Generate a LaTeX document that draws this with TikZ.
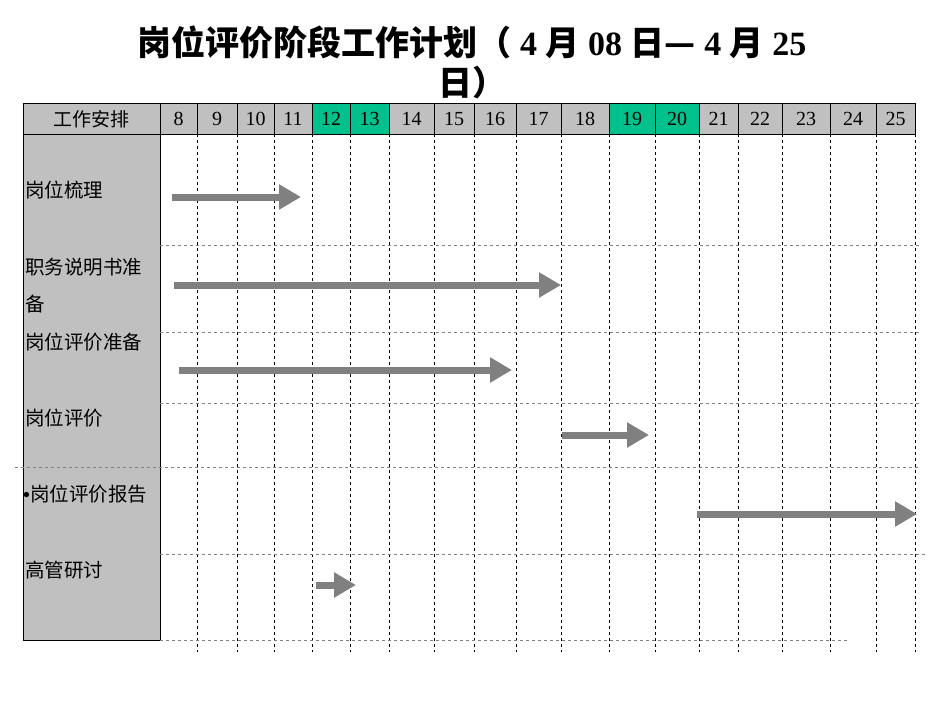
\documentclass[tikz,border=0pt]{standalone}
\usepackage{xcolor}
\usepackage{fontspec}
\setmainfont{Liberation Serif}
\newfontfamily\cjk{Noto Sans CJK SC}
\usepackage{tikz}
\usetikzlibrary{positioning}
\usetikzlibrary{calc}
\usetikzlibrary{arrows.meta}

\definecolor{cellgray}{HTML}{C0C0C0}
\definecolor{cellgreen}{HTML}{00C08C}
\definecolor{bargray}{HTML}{808080}

\begin{document}
\begin{tikzpicture}[x=1pt, y=-1pt,
    hcell/.style={draw=black, fill=cellgray},
    gcell/.style={draw=black, fill=cellgreen},
    grid/.style={dashed, line width=0.6pt},
    rowline/.style={dashed, draw=gray, line width=0.6pt},
    bar/.style={draw=bargray, line width=7pt, -{Triangle[length=22pt, width=24pt]}},
    lbl/.style={anchor=west, font=\cjk\fontsize{19.5}{37}\selectfont, inner sep=0pt, align=left}
]
\useasboundingbox (0,0) rectangle (950,713);

% title
\node[font=\bfseries\fontsize{34}{40}\selectfont, align=center] (title) at (472,62)
  {{\cjk 岗位评价阶段工作计划（} 4 {\cjk 月} 08 {\cjk 日—} 4 {\cjk 月} 25\\{\cjk 日）}};

% left column
\draw[fill=cellgray] (23,134) rectangle (160,640);
\draw[hcell] (23,103) rectangle (160,134);
\node[font=\cjk\fontsize{19}{20}\selectfont] (head) at (91.5,119) {工作安排};

% date columns
\def\xs{160,197,237,274,312,350,389,434,474,516,561,609,655,699,738,782,830,876,915}
\foreach \d [count=\i] in {8,...,25} {
  \pgfmathsetmacro{\xa}{{\xs}[\i-1]}
  \pgfmathsetmacro{\xb}{{\xs}[\i]}
  \ifnum\d=12 \def\st{gcell}\else\ifnum\d=13 \def\st{gcell}\else
  \ifnum\d=19 \def\st{gcell}\else\ifnum\d=20 \def\st{gcell}\else\def\st{hcell}\fi\fi\fi\fi
  \draw[\st] (\xa,103) rectangle (\xb,134);
  \node[font=\fontsize{20}{20}\selectfont] (d\d) at ({(\xa+\xb)/2},119) {\d};
  \ifnum\d>8 \draw[grid] (\xa,134) -- (\xa,652); \fi
}
\draw[grid] (915,134) -- (915,652);

% row separators
\foreach \y in {245,332,403} \draw[rowline] (160,\y) -- (920,\y);
\draw[rowline] (15,467) -- (920,467);
\draw[rowline] (160,554) -- (925,554);
\draw[rowline] (160,640) -- (850,640);

% task labels
\node[lbl] (t1) at (25,190) {岗位梳理};
\node[lbl] (t2) at (25,286) {职务说明书准\\备};
\node[lbl] (t3) at (25,342) {岗位评价准备};
\node[lbl] (t4) at (25,418) {岗位评价};
\node[lbl] (t5) at (23,494) {{\rmfamily\bfseries\textbullet}岗位评价报告};
\node[lbl] (t6) at (25,570) {高管研讨};

% bars
\coordinate (s1) at (172,197); \coordinate (e1) at (301,197);
\coordinate (s2) at (174,285); \coordinate (e2) at (561,285);
\coordinate (s3) at (179,370); \coordinate (e3) at (512,370);
\coordinate (s4) at (562,435); \coordinate (e4) at (649,435);
\coordinate (s5) at (697,514); \coordinate (e5) at (917,514);
\coordinate (s6) at (316,585); \coordinate (e6) at (356,585);
\foreach \i in {1,...,6} \draw[bar] (s\i) -- (e\i);

\end{tikzpicture}
\end{document}
